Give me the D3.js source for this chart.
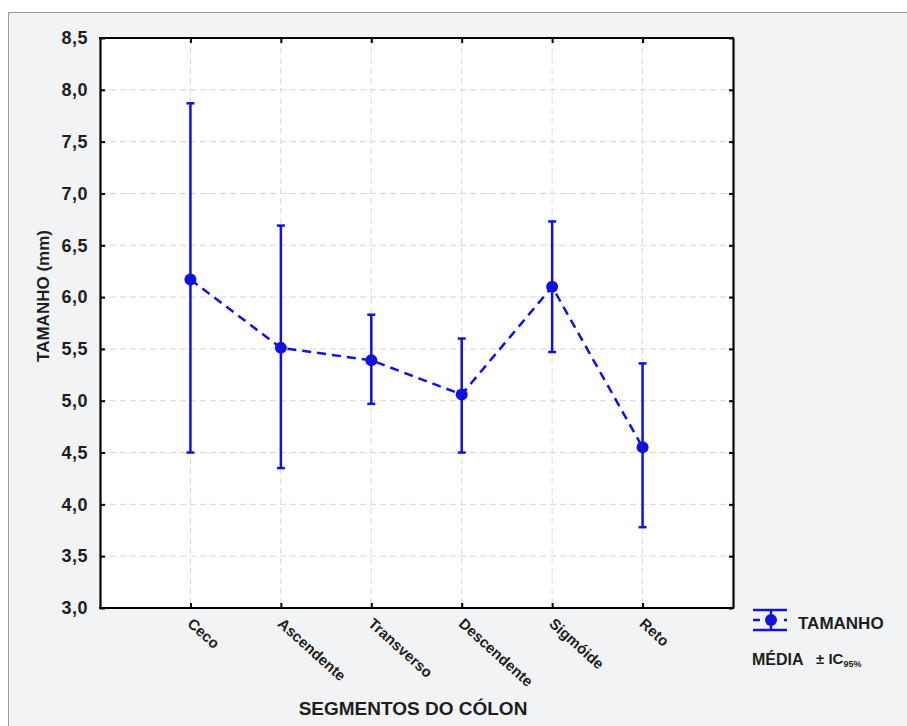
<!DOCTYPE html>
<html><head><meta charset="utf-8">
<script src="https://cdn.jsdelivr.net/npm/d3@7"></script>
<style>
html,body{margin:0;padding:0;background:#fff;}
svg{display:block;font-family:"Liberation Sans",Arial,sans-serif;}
</style></head>
<body>
<svg id="c" width="907" height="726"></svg>
<script>
const categories = ["Ceco","Ascendente","Transverso","Descendente","Sigmóide","Reto"];
const means = [6.17, 5.51, 5.39, 5.06, 6.10, 4.55];
const upper = [7.87, 6.69, 5.83, 5.60, 6.73, 5.36];
const lower = [4.50, 4.35, 4.97, 4.50, 5.47, 3.78];
const yTicks = [3.0,3.5,4.0,4.5,5.0,5.5,6.0,6.5,7.0,7.5,8.0,8.5];

const svg = d3.select("#c");
const blue = "#1212dc";
const ink = "#1e1e1e";
const L=100, R=733, T=38, B=608;

svg.append("rect").attr("x",8.5).attr("y",12.5).attr("width",920).attr("height",730)
  .attr("fill","#f1f3f5").attr("stroke","#9a9a9a").attr("stroke-width",1);
svg.append("rect").attr("x",L).attr("y",T).attr("width",R-L).attr("height",B-T).attr("fill","#fff");

const x = d3.scalePoint().domain(categories).range([L,R]).padding(1);
const y = d3.scaleLinear().domain([3,8.5]).range([B,T]);

// grid
const g = svg.append("g");
g.selectAll("line.h").data(yTicks.slice(1,-1)).join("line")
  .attr("x1",L).attr("x2",R).attr("y1",d=>y(d)).attr("y2",d=>y(d))
  .attr("stroke","#d4d4d4").attr("stroke-dasharray","6,4").attr("stroke-width",1);
g.selectAll("line.v").data(categories).join("line")
  .attr("x1",d=>x(d)).attr("x2",d=>x(d)).attr("y1",T).attr("y2",B)
  .attr("stroke","#d8d8d8").attr("stroke-dasharray","6,4").attr("stroke-width",1);

// axes (box with inward ticks)
const fmt = d=>d3.format(".1f")(d).replace(".",",");
const ax = svg.append("g").attr("transform",`translate(${L},0)`)
  .call(d3.axisLeft(y).tickValues(yTicks).tickFormat(fmt).tickSizeInner(-5).tickSizeOuter(0).tickPadding(12));
ax.select(".domain").attr("stroke","#000").attr("stroke-width",2.2);
ax.selectAll(".tick line").attr("stroke","#000").attr("stroke-width",2);
ax.selectAll(".tick text").attr("font-size",18).attr("font-weight","bold").attr("fill",ink)
  .attr("letter-spacing","0.5px")
  .attr("font-family","'Liberation Sans',Arial,sans-serif");

const axr = svg.append("g").attr("transform",`translate(${R},0)`)
  .call(d3.axisRight(y).tickValues(yTicks).tickFormat("").tickSizeInner(-4).tickSizeOuter(0));
axr.select(".domain").attr("stroke","#000").attr("stroke-width",2.2);
axr.selectAll(".tick line").attr("stroke","#000").attr("stroke-width",2);

const axb = svg.append("g").attr("transform",`translate(0,${B})`)
  .call(d3.axisBottom(x).tickSizeInner(-5).tickSizeOuter(0).tickFormat(""));
axb.select(".domain").attr("stroke","#000").attr("stroke-width",2.2).attr("d",`M${L-1},0H${R+1}`);
axb.selectAll(".tick line").attr("stroke","#000").attr("stroke-width",2);

const axt = svg.append("g").attr("transform",`translate(0,${T})`)
  .call(d3.axisTop(x).tickSizeInner(-5).tickSizeOuter(0).tickFormat(""));
axt.select(".domain").attr("stroke","#000").attr("stroke-width",2.2).attr("d",`M${L-1},0H${R+1}`);
axt.selectAll(".tick line").attr("stroke","#000").attr("stroke-width",2);

// x labels rotated
svg.append("g").selectAll("text").data(categories).join("text")
  .attr("transform",d=>`translate(${x(d)-4},${625}) rotate(42)`)
  .attr("font-size",15).attr("font-weight","bold").attr("fill",ink)
  .text(d=>d);

// titles
svg.append("text").attr("transform","translate(49,296) rotate(-90)")
  .attr("text-anchor","middle").attr("font-size",17).attr("font-weight","bold").attr("fill",ink)
  .text("TAMANHO (mm)");
svg.append("text").attr("x",413).attr("y",715)
  .attr("text-anchor","middle").attr("font-size",19).attr("font-weight","bold").attr("fill",ink)
  .text("SEGMENTOS DO CÓLON");

// dashed mean line
const pts = categories.map((c,i)=>[x(c),y(means[i])]);
svg.append("path").attr("d",d3.line()(pts)).attr("fill","none")
  .attr("stroke",blue).attr("stroke-width",2.5).attr("stroke-dasharray","9,6");

// error bars
const eb = svg.append("g").attr("stroke",blue).attr("stroke-width",2.5);
categories.forEach((c,i)=>{
  const cx = x(c);
  eb.append("line").attr("x1",cx).attr("x2",cx).attr("y1",y(upper[i])).attr("y2",y(lower[i]));
  eb.append("line").attr("x1",cx-4).attr("x2",cx+4).attr("y1",y(upper[i])).attr("y2",y(upper[i]));
  eb.append("line").attr("x1",cx-4).attr("x2",cx+4).attr("y1",y(lower[i])).attr("y2",y(lower[i]));
});
svg.append("g").selectAll("circle").data(categories).join("circle")
  .attr("cx",d=>x(d)).attr("cy",(d,i)=>y(means[i])).attr("r",6).attr("fill",blue);

// legend
const lg = svg.append("g").attr("stroke",blue);
lg.append("line").attr("x1",753).attr("x2",787).attr("y1",610).attr("y2",610).attr("stroke-width",2.5);
lg.append("line").attr("x1",753).attr("x2",787).attr("y1",630).attr("y2",630).attr("stroke-width",2.5);
lg.append("line").attr("x1",771).attr("x2",771).attr("y1",610).attr("y2",630).attr("stroke-width",2.5);
lg.append("line").attr("x1",753).attr("x2",760).attr("y1",620).attr("y2",620).attr("stroke-width",2.5);
lg.append("line").attr("x1",784).attr("x2",787).attr("y1",620).attr("y2",620).attr("stroke-width",2.5);
lg.append("circle").attr("cx",771).attr("cy",620).attr("r",6).attr("fill",blue).attr("stroke","none");
svg.append("text").attr("x",798).attr("y",629).attr("font-size",17).attr("font-weight","bold").attr("fill",ink).text("TAMANHO");
svg.append("text").attr("x",752).attr("y",665).attr("font-size",16).attr("font-weight","bold").attr("fill",ink).text("MÉDIA");
const t2 = svg.append("text").attr("x",816).attr("y",664).attr("font-size",15).attr("font-weight","bold").attr("fill",ink);
t2.append("tspan").text("± IC");
t2.append("tspan").attr("font-size",9).attr("dy",3).text("95%");
</script>
</body></html>
